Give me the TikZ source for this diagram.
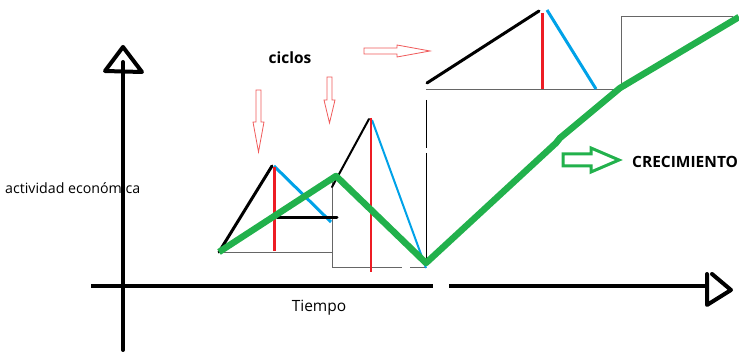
\documentclass[tikz,border=0pt]{standalone}
\usepackage{fontspec}
\setmainfont{Open Sans}
\definecolor{gr}{RGB}{34,177,76}
\definecolor{rd}{RGB}{237,28,36}
\definecolor{bl}{RGB}{0,162,232}
\definecolor{ar}{RGB}{240,90,90}
\tikzset{
  axisline/.style={line width=4pt,line cap=round,line join=round},
  upline/.style={black,line width=3pt,line cap=round},
  peakline/.style={rd,line width=3pt},
  downline/.style={bl,line width=3pt},
  guide/.style={gray!80!black,line width=0.7pt},
  growth/.style={gr,line width=6.5pt,line join=round},
  hollowred/.style={draw=ar,line width=0.8pt,fill=white},
  hollowgreen/.style={draw=gr,line width=3pt,line join=miter,fill=white},
}
\begin{document}
\begin{tikzpicture}[x=1pt,y=-1pt]
\useasboundingbox (0,0) rectangle (739,352);
% texts
\node[font=\bfseries\fontsize{15.5}{18}\selectfont] (ciclos) at (290,58) {ciclos};
\node[font=\bfseries\fontsize{15.5}{18}\selectfont,anchor=west,inner sep=0pt] (crec) at (632,162) {CRECIMIENTO};
\node[font=\fontsize{14.2}{16}\selectfont,anchor=west,inner sep=0pt] (act) at (5,188) {actividad económica};
\node[font=\fontsize{15.5}{18}\selectfont] (tiempo) at (319,308) {Tiempo};
% axes
\draw[axisline] (123,350) -- (123,62);
\draw[axisline] (123,47) -- (105,71) -- (142,72) -- cycle;
\draw[axisline,line cap=butt] (91,286) -- (433,286);
\draw[axisline,line cap=butt] (449,286) -- (708,286);
\draw[axisline] (707,274) -- (707,305) -- (731,290) -- (712,274);
% guide lines
\draw[guide] (219,252) -- (332,252);
\draw[guide] (332,182) -- (332,267) -- (402,267);
\draw[guide] (410,267) -- (426,267);
\draw[guide,black] (426,100) -- (426,148);
\draw[guide,black] (426,153) -- (426,265);
\draw[guide] (426,89) -- (620,89);
\draw[guide] (621,88) -- (621,16) -- (733,16);
% cycle 1
\draw[upline] (219,252) -- (272,166);
\draw[downline] (274,166) -- (331,222);
\draw[peakline] (274,167) -- (274,251);
\draw[upline] (277,218) -- (337,218);
% cycle 2
\draw[upline,line width=2pt] (332,187) -- (369,119);
\draw[downline,line width=2pt] (372,120) -- (426,268);
\draw[peakline,line width=2.5pt] (371,118) -- (371,272);
% cycle 3
\draw[upline] (427,83) -- (539,11);
\draw[peakline] (542,13) -- (542,89);
\draw[downline] (547,10) -- (596,89);
% growth line
\draw[growth] (219,252) -- (336,176) -- (426,263) -- (556,143) -- (560,138) -- (620,88) -- (739,17);
% red hollow arrows
\draw[hollowred] (256,90) -- (261,90) -- (261,122) -- (264,122) -- (258.5,152) -- (253,122) -- (256,122) -- cycle;
\draw[hollowred] (327,77) -- (332,77) -- (332,100) -- (335,100) -- (329.5,123) -- (324,100) -- (327,100) -- cycle;
\draw[hollowred] (364,48) -- (397,48) -- (397,45) -- (430,51) -- (397,57) -- (397,54) -- (364,54) -- cycle;
% green hollow arrow
\draw[hollowgreen] (563,154) -- (591,154) -- (591,148) -- (619,160) -- (591,172) -- (591,166) -- (563,166) -- cycle;
\end{tikzpicture}
\end{document}
